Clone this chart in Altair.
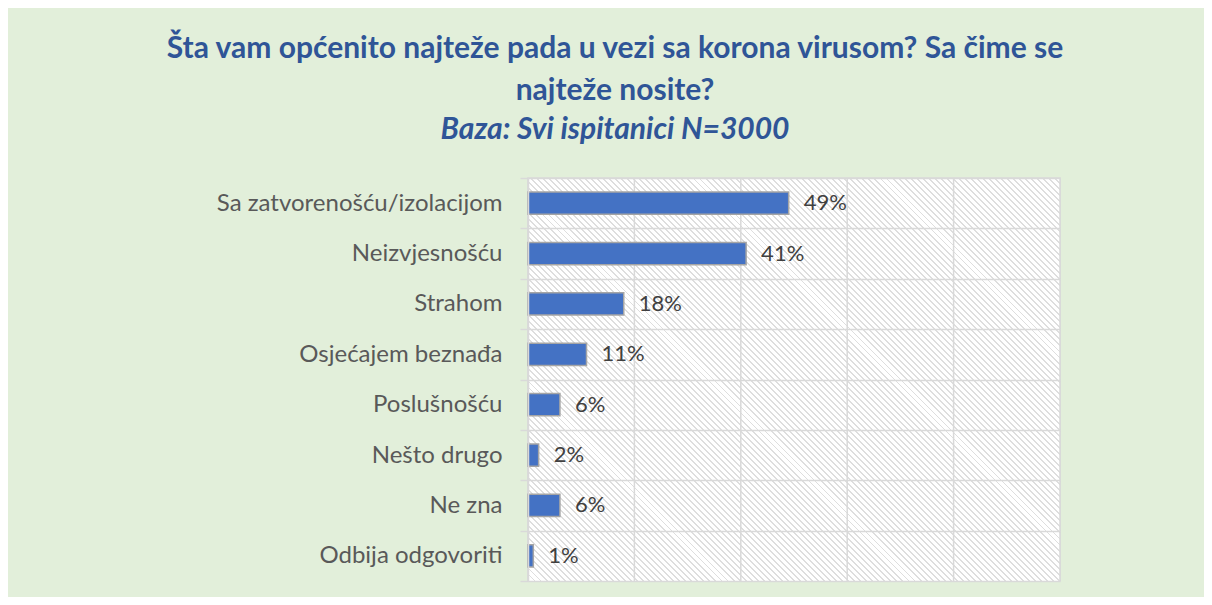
import altair as alt
import pandas as pd

categories = [
    "Sa zatvorenošću/izolacijom",
    "Neizvjesnošću",
    "Strahom ",
    "Osjećajem beznađa",
    "Poslušnošću",
    "Nešto drugo",
    "Ne zna",
    "Odbija odgovoriti",
]
values = [49, 41, 18, 11, 6, 2, 6, 1]
grid_ticks = [0, 20, 40, 60, 80, 100]

title_lines = [
    "Šta vam općenito najteže pada u vezi sa korona virusom? Sa čime se",
    "najteže nosite?",
]
subtitle = "Baza: Svi ispitanici N=3000"

df = pd.DataFrame({"cat": categories, "value": values})
df["label"] = df["value"].astype(str) + "%"
grid_df = pd.DataFrame({"v": grid_ticks})
bg_df = pd.DataFrame({"x0": [0], "x1": [100]})

W, H = 532, 403
FONT = "Lato"

# diagonal hatch emulated with a striped linear gradient
k = (W + H) / (W + H * H / W)
n_stripes = 155
frac = 0.32
stops = []
for i in range(n_stripes):
    a = i / n_stripes
    b = (i + frac) / n_stripes
    c = (i + 1) / n_stripes
    stops += [
        {"offset": a, "color": "#DEDEDE"},
        {"offset": b, "color": "#DEDEDE"},
        {"offset": b, "color": "#FFFFFF"},
        {"offset": c, "color": "#FFFFFF"},
    ]
hatch = {"gradient": "linear", "x1": 0, "y1": 1, "x2": k, "y2": 1 - k * H / W, "stops": stops}

xscale = alt.Scale(domain=[0, 100], nice=False, zero=True)
yscale = alt.Scale(domain=categories, paddingInner=0, paddingOuter=0)

bg = alt.Chart(bg_df).mark_rect(fill=hatch, stroke=None).encode(
    x=alt.X("x0:Q", scale=xscale, axis=None),
    x2="x1:Q",
)

rules = alt.Chart(grid_df).mark_rule(color="#D9D9D9", strokeWidth=1.5).encode(
    x=alt.X("v:Q", scale=xscale, axis=None)
)

yaxis = alt.Axis(
    title=None,
    labelFontSize=24,
    labelFont=FONT,
    labelColor="#595959",
    labelPadding=18,
    labelLimit=450,
    tickSize=8,
    tickColor="#D9D9D9",
    tickWidth=1.5,
    tickBand="extent",
    domainColor="#D9D9D9",
    domainWidth=1.5,
    grid=True,
    gridColor="#D9D9D9",
    gridWidth=1.5,
    zindex=1,
)

bars = alt.Chart(df).mark_bar(
    color="#4472C4", stroke="#A5A5A5", strokeWidth=1.5, height={"band": 0.44}
).encode(
    x=alt.X("value:Q", scale=xscale, axis=None),
    y=alt.Y("cat:N", scale=yscale, sort=categories, axis=yaxis),
)

text = alt.Chart(df).mark_text(
    align="left", baseline="middle", dx=15, fontSize=22, font=FONT, color="#404040"
).encode(
    x=alt.X("value:Q", scale=xscale, axis=None),
    y=alt.Y("cat:N", scale=yscale, sort=categories),
    text="label:N",
)

chart = (
    alt.layer(bg, rules, bars, text)
    .properties(
        width=W,
        height=H,
        autosize=alt.AutoSizeParams(type="none"),
        padding={"left": 520, "top": 170, "right": 144, "bottom": 16},
        background="#E2EFDA",
        title=alt.TitleParams(
            text=title_lines,
            subtitle=subtitle,
            anchor="middle",
            frame="group",
            dx=-179,
            offset=21,
            font=FONT,
            fontSize=30,
            fontWeight="bold",
            color="#2F5597",
            lineHeight=42,
            subtitleFont=FONT,
            subtitleFontSize=30,
            subtitleFontWeight="bold",
            subtitleFontStyle="italic",
            subtitleColor="#2F5597",
            subtitlePadding=9,
        ),
    )
    .configure_view(stroke="#D9D9D9", strokeWidth=1.5)
)

chart.save("out.html", embed_options={"renderer": "svg", "actions": False})
